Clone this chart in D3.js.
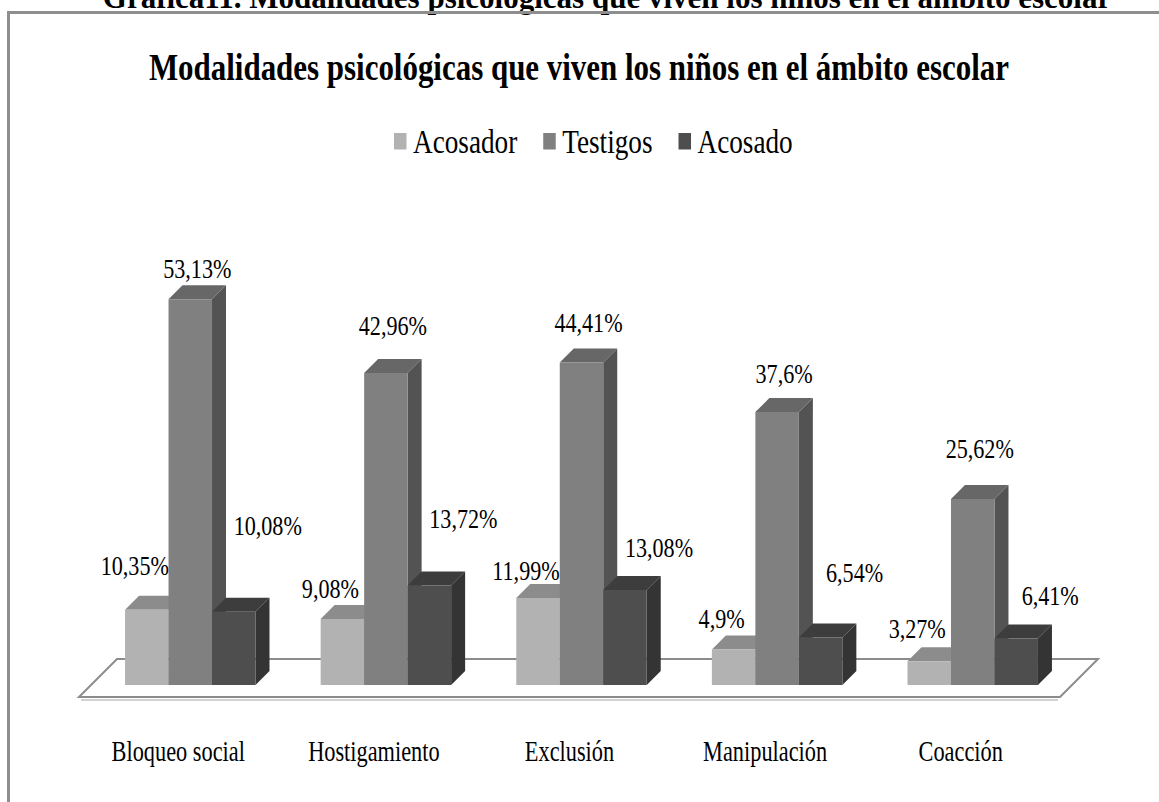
<!DOCTYPE html>
<html>
<head>
<meta charset="utf-8">
<script src="https://cdn.jsdelivr.net/npm/d3@7"></script>
<style>
  html, body { margin: 0; padding: 0; background: #fff; }
  svg { display: block; }
  text { font-family: "Liberation Serif", "Times New Roman", serif; fill: #000; }
</style>
</head>
<body>
<svg id="chart" width="1159" height="802"></svg>
<script>
// ---- data ----
const categories = ["Bloqueo social", "Hostigamiento", "Exclusión", "Manipulación", "Coacción"];
const seriesNames = ["Acosador", "Testigos", "Acosado"];
const acosador = [10.35, 9.08, 11.99, 4.9, 3.27];
const testigos = [53.13, 42.96, 44.41, 37.6, 25.62];
const acosado = [10.08, 13.72, 13.08, 6.54, 6.41];
const pageTitle = "Gráfica11. Modalidades psicológicas que viven los niños en el ámbito escolar";
const chartTitle = "Modalidades psicológicas que viven los niños en el ámbito escolar";

// ---- layout / style ----
const W = 1159, H = 802;
const frontColors = { Acosador: "#b2b2b2", Testigos: "#808080", Acosado: "#4e4e4e" };
const topColors   = { Acosador: "#8c8c8c", Testigos: "#676767", Acosado: "#3d3d3d" };
const sideColors  = { Acosador: "#8c8c8c", Testigos: "#535353", Acosado: "#343434" };
const floorDepth = 38, barZ0 = 12, barZ1 = 26;
const squeeze = 0.79; // horizontal condensation of the serif text
// label lift above the back edge of each bar top (px) and horizontal shift per series
const labelLift = { Acosador: [21, 7, 4, 7, 9], Testigos: [7, 24, 17, 15, 27], Acosado: [63, 43, 19, 42, 19] };
const labelShift = { Acosador: -19, Testigos: 0, Acosado: 27 };

const values = { Acosador: acosador, Testigos: testigos, Acosado: acosado };
const fmt = v => String(v).replace(".", ",") + "%";

const svg = d3.select("#chart");

function squeezeText(sel, k) {
  sel.each(function () {
    const n = this.getComputedTextLength();
    d3.select(this).attr("textLength", n * k).attr("lengthAdjust", "spacingAndGlyphs").property("__w", n * k);
  });
}

// page title (partially cut at the top, as in the source page)
svg.append("text")
  .attr("x", 607).attr("y", 8)
  .attr("text-anchor", "middle")
  .attr("font-size", 31).attr("font-weight", "bold")
  .text(pageTitle);

// frame
svg.append("path")
  .attr("d", `M8.5,${H} L8.5,12.5 L${W},12.5`)
  .attr("fill", "none").attr("stroke", "#8e8e8e").attr("stroke-width", 3);

// chart title
svg.append("text")
  .attr("x", 579).attr("y", 80)
  .attr("text-anchor", "middle")
  .attr("font-size", 38).attr("font-weight", "bold")
  .text(chartTitle)
  .call(squeezeText, 0.814);

// scales
const x0 = d3.scaleBand().domain(categories).range([79, 1060]).paddingInner(0.333).paddingOuter(0.174);
const x1 = d3.scaleBand().domain(seriesNames).range([0, x0.bandwidth()]);
const y = d3.scaleLinear().domain([0, 60]).range([697, 697 - 7.26 * 60]);

const P = (x, yy, z) => [x + z, yy - z];
const poly = pts => "M" + pts.map(p => p.join(",")).join("L") + "Z";

// floor
const [fx0, fx1] = x0.range();
svg.append("line")
  .attr("x1", fx0 + 2).attr("x2", fx1 - 2)
  .attr("y1", y(0) + 3).attr("y2", y(0) + 3)
  .attr("stroke", "#d2d2d2").attr("stroke-width", 2);
svg.append("path")
  .attr("d", poly([P(fx0, y(0), 0), P(fx1, y(0), 0), P(fx1, y(0), floorDepth), P(fx0, y(0), floorDepth)]))
  .attr("fill", "#fff").attr("stroke", "#8c8c8c").attr("stroke-width", 2);

// bars
const gBars = svg.append("g");
categories.forEach((c, ci) => {
  seriesNames.forEach(s => {
    const v = values[s][ci];
    const xl = x0(c) + x1(s), xr = xl + x1.bandwidth();
    const yt = y(v), yb = y(0);
    const g = gBars.append("g");
    g.append("path").attr("d", poly([P(xr, yt, barZ0), P(xr, yt, barZ1), P(xr, yb, barZ1), P(xr, yb, barZ0)]))
      .attr("fill", sideColors[s]);
    g.append("path").attr("d", poly([P(xl, yt, barZ0), P(xl, yt, barZ1), P(xr, yt, barZ1), P(xr, yt, barZ0)]))
      .attr("fill", topColors[s]);
    g.append("path").attr("d", poly([P(xl, yt, barZ0), P(xr, yt, barZ0), P(xr, yb, barZ0), P(xl, yb, barZ0)]))
      .attr("fill", frontColors[s]);
  });
});

// value labels
const gLab = svg.append("g");
categories.forEach((c, ci) => {
  seriesNames.forEach(s => {
    const v = values[s][ci];
    const xc = x0(c) + x1(s) + x1.bandwidth() / 2 + (barZ0 + barZ1) / 2;
    const backTop = y(v) - barZ1;
    gLab.append("text")
      .attr("x", xc + labelShift[s])
      .attr("y", backTop - labelLift[s][ci])
      .attr("text-anchor", "middle")
      .attr("font-size", 28)
      .text(fmt(v))
      .call(squeezeText, squeeze);
  });
});

// category labels
svg.append("g").selectAll("text").data(categories).join("text")
  .attr("x", d => x0(d) + x0.bandwidth() / 2)
  .attr("y", 761)
  .attr("text-anchor", "middle")
  .attr("font-size", 29)
  .text(d => d)
  .call(squeezeText, 0.77);

// legend
const legend = svg.append("g");
let lx = 394;
seriesNames.forEach(s => {
  legend.append("rect").attr("x", lx).attr("y", 133).attr("width", 12.5).attr("height", 16.5).attr("fill", frontColors[s]);
  const t = legend.append("text").attr("x", lx + 19).attr("y", 153).attr("font-size", 34).text(s).call(squeezeText, 0.8);
  lx += 19 + t.property("__w") + 26;
});
</script>
</body>
</html>
